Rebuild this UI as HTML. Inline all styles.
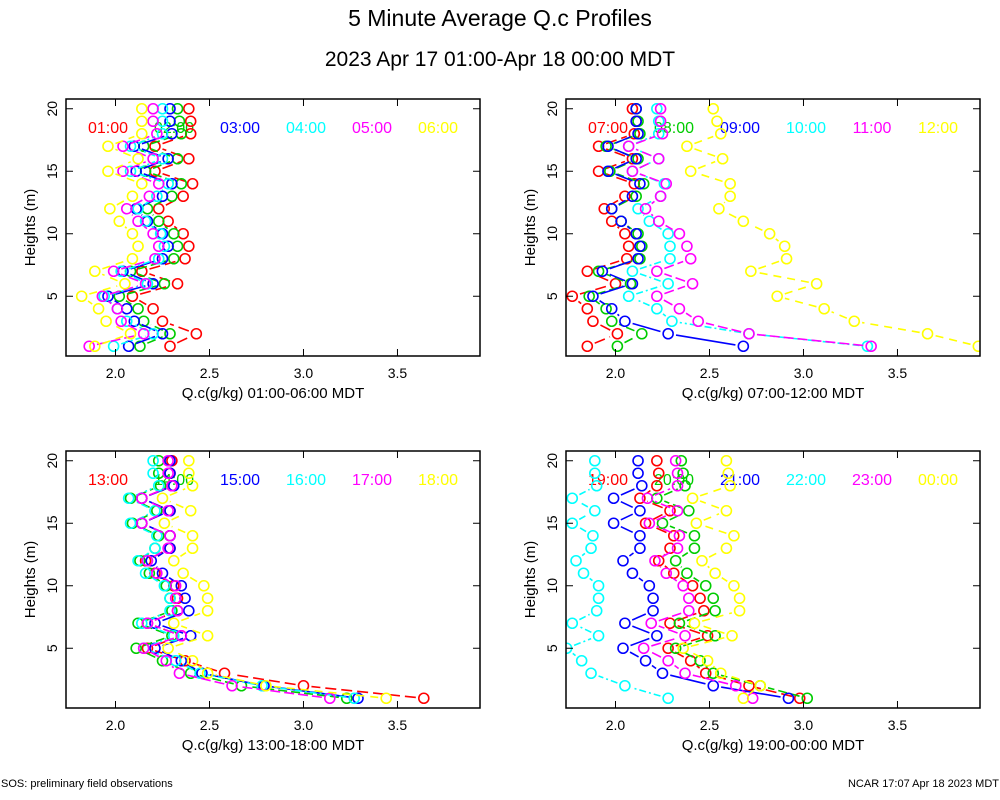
<!DOCTYPE html>
<html><head><meta charset="utf-8"><style>
body{margin:0;background:#fff;}
svg{display:block;font-family:"Liberation Sans",sans-serif;}
</style></head><body>
<svg id="chart" width="1000" height="800" viewBox="0 0 1000 800" xmlns="http://www.w3.org/2000/svg">
<text x="500" y="26" font-size="23" text-anchor="middle">5 Minute Average Q.c Profiles</text>
<text x="500" y="66" font-size="21" text-anchor="middle">2023 Apr 17 01:00-Apr 18 00:00 MDT</text>
<text x="1" y="787" font-size="11">SOS: preliminary field observations</text>
<text x="999" y="787" font-size="11" text-anchor="end">NCAR 17:07 Apr 18 2023 MDT</text>
</svg>
<script>
const heights = [1,2,3,4,5,6,7,8,9,10,11,12,13,14,15,16,17,18,19,20];
const xTicks = [2.0, 2.5, 3.0, 3.5];
const xTickLabels = ["2.0","2.5","3.0","3.5"];
const yTicks = [5, 10, 15, 20];
const yTickLabels = ["5","10","15","20"];
const seriesColors = ["#ff0000","#00cc00","#0000ff","#00ffff","#ff00ff","#ffff00"];

const p1Labels = ["01:00","02:00","03:00","04:00","05:00","06:00"];
const p1Red = [2.29,2.43,2.25,2.20,2.09,2.33,2.14,2.37,2.39,2.36,2.28,2.23,2.36,2.41,2.21,2.39,2.21,2.40,2.40,2.39];
const p1Green = [2.13,2.29,2.15,2.12,2.02,2.26,2.08,2.31,2.33,2.31,2.23,2.17,2.30,2.35,2.16,2.33,2.15,2.35,2.34,2.33];
const p1Blue = [2.07,2.25,2.10,2.06,1.96,2.20,2.04,2.25,2.28,2.25,2.17,2.11,2.25,2.30,2.11,2.28,2.10,2.30,2.29,2.29];
const p1Cyan = [1.99,2.20,2.06,2.01,1.94,2.17,2.03,2.23,2.26,2.24,2.16,2.12,2.22,2.28,2.08,2.25,2.08,2.25,2.25,2.25];
const p1Magenta = [1.86,2.15,2.03,2.01,1.93,2.16,1.99,2.21,2.23,2.20,2.12,2.06,2.18,2.23,2.04,2.20,2.04,2.22,2.20,2.20];
const p1Yellow = [1.89,2.08,1.95,1.91,1.82,2.05,1.89,2.09,2.12,2.09,2.02,1.97,2.09,2.14,1.96,2.12,1.96,2.14,2.14,2.14];

const p2Labels = ["07:00","08:00","09:00","10:00","11:00","12:00"];
const p2Red = [1.85,2.01,1.88,1.85,1.77,2.00,1.85,2.06,2.07,2.05,1.98,1.94,2.05,2.10,1.91,2.09,1.91,2.10,2.11,2.09];
const p2Green = [2.01,2.14,1.98,1.95,1.86,2.08,1.91,2.13,2.14,2.12,2.03,1.98,2.11,2.15,1.97,2.12,1.95,2.13,2.12,2.11];
const p2Blue = [2.68,2.28,2.05,1.98,1.88,2.09,1.93,2.12,2.13,2.11,2.03,1.98,2.09,2.13,1.96,2.11,1.96,2.12,2.11,2.11];
const p2Cyan = [3.34,2.71,2.30,2.22,2.07,2.28,2.09,2.29,2.29,2.28,2.18,2.12,2.24,2.26,2.09,2.23,2.07,2.23,2.23,2.22];
const p2Magenta = [3.36,2.71,2.44,2.34,2.22,2.41,2.22,2.40,2.38,2.34,2.23,2.16,2.24,2.27,2.09,2.23,2.07,2.25,2.24,2.24];
const p2Yellow = [3.93,3.66,3.27,3.11,2.86,3.07,2.72,2.91,2.90,2.82,2.68,2.55,2.61,2.61,2.40,2.57,2.38,2.56,2.54,2.52];

const p3Labels = ["13:00","14:00","15:00","16:00","17:00","18:00"];
const p3Red = [3.64,3.00,2.58,2.37,2.17,2.35,2.17,2.33,2.33,2.31,2.21,2.16,2.29,2.29,2.14,2.29,2.14,2.30,2.29,2.30];
const p3Green = [3.23,2.67,2.40,2.25,2.11,2.30,2.12,2.30,2.29,2.27,2.18,2.13,2.21,2.23,2.09,2.22,2.08,2.24,2.23,2.23];
const p3Blue = [3.29,2.79,2.46,2.35,2.21,2.40,2.21,2.39,2.37,2.35,2.25,2.19,2.29,2.29,2.14,2.29,2.14,2.31,2.29,2.29];
const p3Cyan = [3.27,2.78,2.45,2.32,2.15,2.31,2.14,2.29,2.29,2.26,2.16,2.12,2.21,2.22,2.08,2.21,2.07,2.23,2.20,2.20];
const p3Magenta = [3.14,2.62,2.34,2.27,2.15,2.35,2.17,2.33,2.32,2.32,2.22,2.17,2.28,2.29,2.14,2.28,2.14,2.30,2.28,2.28];
const p3Yellow = [3.44,2.80,2.49,2.41,2.28,2.49,2.31,2.49,2.49,2.47,2.36,2.31,2.41,2.41,2.26,2.40,2.25,2.41,2.39,2.39];

const p4Labels = ["19:00","20:00","21:00","22:00","23:00","00:00"];
const p4Red = [2.98,2.71,2.48,2.40,2.28,2.49,2.29,2.47,2.45,2.41,2.31,2.23,2.29,2.31,2.16,2.29,2.13,2.22,2.23,2.22];
const p4Green = [3.02,2.77,2.52,2.45,2.32,2.53,2.34,2.53,2.52,2.48,2.38,2.32,2.42,2.42,2.25,2.39,2.22,2.37,2.36,2.35];
const p4Blue = [2.92,2.52,2.25,2.16,2.04,2.22,2.05,2.20,2.20,2.18,2.09,2.04,2.13,2.13,1.99,2.13,1.99,2.14,2.12,2.12];
const p4Cyan = [2.28,2.05,1.87,1.82,1.74,1.91,1.77,1.90,1.91,1.91,1.83,1.79,1.87,1.88,1.77,1.89,1.77,1.90,1.89,1.89];
const p4Magenta = [2.73,2.64,2.37,2.28,2.15,2.37,2.19,2.39,2.39,2.36,2.27,2.21,2.33,2.34,2.18,2.33,2.17,2.33,2.33,2.32];
const p4Yellow = [2.68,2.77,2.56,2.49,2.36,2.62,2.42,2.66,2.66,2.63,2.53,2.46,2.59,2.63,2.43,2.59,2.41,2.61,2.60,2.59];

const xDomain = [1.7367, 3.939];
const yDomain = [0.22, 20.78];

const panels = [
  {key:"p1", x0:66, x1:480, y0:99, y1:356, labels:p1Labels, series:[p1Red,p1Green,p1Blue,p1Cyan,p1Magenta,p1Yellow], xtitle:"Q.c(g/kg) 01:00-06:00 MDT"},
  {key:"p2", x0:566, x1:980, y0:99, y1:356, labels:p2Labels, series:[p2Red,p2Green,p2Blue,p2Cyan,p2Magenta,p2Yellow], xtitle:"Q.c(g/kg) 07:00-12:00 MDT"},
  {key:"p3", x0:66, x1:480, y0:451, y1:708, labels:p3Labels, series:[p3Red,p3Green,p3Blue,p3Cyan,p3Magenta,p3Yellow], xtitle:"Q.c(g/kg) 13:00-18:00 MDT"},
  {key:"p4", x0:566, x1:980, y0:451, y1:708, labels:p4Labels, series:[p4Red,p4Green,p4Blue,p4Cyan,p4Magenta,p4Yellow], xtitle:"Q.c(g/kg) 19:00-00:00 MDT"}
];
const dashes = ["11 5","9 4","","7 3 2 3","10 4","8 6"];

const NS = "http://www.w3.org/2000/svg";
const svg = document.getElementById("chart");
function mk(tag, attrs, parent){
  const e = document.createElementNS(NS, tag);
  for (const k in attrs) e.setAttribute(k, attrs[k]);
  (parent||svg).appendChild(e);
  return e;
}

panels.forEach((p, pi) => {
  const xs = v => p.x0 + (v - xDomain[0]) / (xDomain[1] - xDomain[0]) * (p.x1 - p.x0);
  const ys = v => p.y1 - (v - yDomain[0]) / (yDomain[1] - yDomain[0]) * (p.y1 - p.y0);
  const g = mk("g", {});
  
  

  const clipId = "clip" + pi;
  const cp = mk("clipPath", {id: clipId}, g);
  mk("rect", {x:p.x0, y:p.y0, width:p.x1-p.x0, height:p.y1-p.y0}, cp);

  // legend
  p.labels.forEach((lab, i) => {
    const t = mk("text", {x: p.x0 + 42 + i*66, y: p.y0 + 34, "font-size": 16, "text-anchor":"middle", fill: seriesColors[i]}, g);
    t.textContent = lab;
    
    
  });

  // series
  const dg = mk("g", {"clip-path": "url(#" + clipId + ")"}, g);
  const r = 5;
  p.series.forEach((vals, si) => {
    const sg = mk("g", {}, dg);
    
    
    for (let k = 0; k < vals.length - 1; k++) {
      const ax = xs(vals[k]), ay = ys(heights[k]), bx = xs(vals[k+1]), by = ys(heights[k+1]);
      const dx = bx-ax, dy = by-ay, L = Math.hypot(dx, dy);
      const gap = r + 3;
      if (L <= 2*gap) continue;
      const ux = dx/L, uy = dy/L;
      const ln = mk("line", {x1: ax+ux*gap, y1: ay+uy*gap, x2: bx-ux*gap, y2: by-uy*gap, stroke: seriesColors[si], "stroke-width": 1.6}, sg);
      if (dashes[si]) ln.setAttribute("stroke-dasharray", dashes[si]);
      
      
    }
    vals.forEach((v, k) => {
      const c = mk("circle", {cx: xs(v), cy: ys(heights[k]), r: r, fill: "none", stroke: seriesColors[si], "stroke-width": 1.6}, sg);
      
      
    });
  });

  // frame
  const fr = mk("rect", {x:p.x0, y:p.y0, width:p.x1-p.x0, height:p.y1-p.y0, fill:"none", stroke:"#000", "stroke-width":1.5}, g);
  
  

  // x ticks
  xTicks.forEach((v, i) => {
    const x = xs(v);
    mk("line", {x1:x, y1:p.y1, x2:x, y2:p.y1-7, stroke:"#000", "stroke-width":1}, g);
    mk("line", {x1:x, y1:p.y0, x2:x, y2:p.y0+7, stroke:"#000", "stroke-width":1}, g);
    const t = mk("text", {x:x, y:p.y1+22, "font-size":14, "text-anchor":"middle"}, g);
    t.textContent = xTickLabels[i];
    
    
  });
  // y ticks
  yTicks.forEach((v, i) => {
    const y = ys(v);
    mk("line", {x1:p.x0, y1:y, x2:p.x0+7, y2:y, stroke:"#000", "stroke-width":1}, g);
    mk("line", {x1:p.x1, y1:y, x2:p.x1-7, y2:y, stroke:"#000", "stroke-width":1}, g);
    const tx = p.x0 - 9;
    const t = mk("text", {x:tx, y:y, "font-size":14, "text-anchor":"middle", transform:"rotate(-90 " + tx + " " + y + ")"}, g);
    t.textContent = yTickLabels[i];
    
    
  });
  // titles
  const xt = mk("text", {x:(p.x0+p.x1)/2, y:p.y1+42, "font-size":15, "text-anchor":"middle"}, g);
  xt.textContent = p.xtitle;
  
  
  const yx = p.x0 - 31, yy = (p.y0+p.y1)/2;
  const yt = mk("text", {x:yx, y:yy, "font-size":15, "text-anchor":"middle", transform:"rotate(-90 " + yx + " " + yy + ")"}, g);
  yt.textContent = "Heights (m)";
  
  
});
</script>
</body></html>
